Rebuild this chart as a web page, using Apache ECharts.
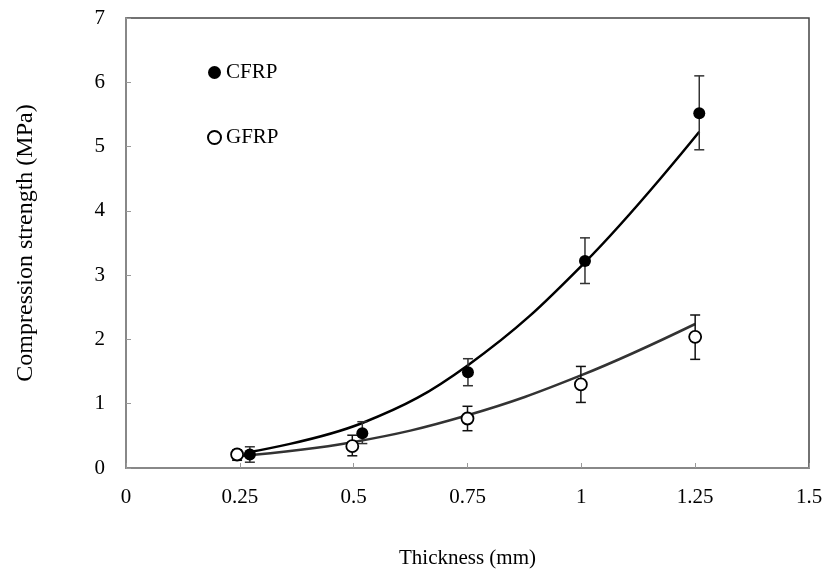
<!DOCTYPE html>
<html>
<head>
<meta charset="utf-8">
<script src="https://cdn.jsdelivr.net/npm/echarts@6/dist/echarts.min.js"></script>
<style>
  html, body { margin: 0; padding: 0; background: #fff; }
  #chart { width: 828px; height: 574px; }
</style>
</head>
<body>
<div id="chart"></div>
<script>
// measured points: [thickness, strength]
const cfrpPoints = [[0.272, 0.21], [0.519, 0.54], [0.751, 1.49], [1.008, 3.22], [1.259, 5.52]];
const gfrpPoints = [[0.244, 0.21], [0.497, 0.34], [0.750, 0.77], [0.999, 1.30], [1.250, 2.04]];

// error bars: [thickness, low, high]
const cfrpErr = [[0.272, 0.09, 0.33], [0.519, 0.38, 0.72], [0.751, 1.28, 1.70], [1.008, 2.87, 3.58], [1.259, 4.95, 6.10]];
const gfrpErr = [[0.244, 0.12, 0.28], [0.497, 0.19, 0.51], [0.750, 0.58, 0.96], [0.999, 1.02, 1.58], [1.250, 1.69, 2.38]];

// trend lines
const cfrpTrend = [[0.272, 0.25], [0.519, 0.70], [0.751, 1.60], [1.008, 3.20], [1.259, 5.23]];
const gfrpTrend = [[0.244, 0.18], [0.497, 0.40], [0.750, 0.82], [0.999, 1.44], [1.250, 2.24]];

const chart = echarts.init(document.getElementById("chart"));
const FONT = "'Liberation Serif', 'Times New Roman', serif";

function errorBars(color) {
  return function (params, api) {
    const x = api.value(0);
    const lo = api.coord([x, api.value(1)]);
    const hi = api.coord([x, api.value(2)]);
    const cap = 5;
    const style = { stroke: color, lineWidth: 1.5 };
    return {
      type: "group",
      children: [
        { type: "line", shape: { x1: lo[0], y1: lo[1], x2: hi[0], y2: hi[1] }, style },
        { type: "line", shape: { x1: lo[0] - cap, y1: lo[1], x2: lo[0] + cap, y2: lo[1] }, style },
        { type: "line", shape: { x1: hi[0] - cap, y1: hi[1], x2: hi[0] + cap, y2: hi[1] }, style },
      ],
    };
  };
}

chart.setOption({
  animation: false,
  backgroundColor: "#fff",
  textStyle: { fontFamily: FONT },
  grid: {
    left: 126, right: 19, top: 18, bottom: 104,
    show: true, borderColor: "#444", borderWidth: 1.5,
  },
  legend: {
    data: ["CFRP", "GFRP"],
    orient: "vertical",
    left: 202, top: 57,
    itemGap: 44,
    itemWidth: 13, itemHeight: 13,
    textStyle: { fontFamily: FONT, fontSize: 21, color: "#000" },
  },
  xAxis: {
    type: "value",
    min: 0, max: 1.5, interval: 0.25,
    name: "Thickness (mm)",
    nameLocation: "middle",
    nameGap: 80,
    nameTextStyle: { fontFamily: FONT, fontSize: 21, color: "#000" },
    axisLine: { lineStyle: { color: "#888", width: 2 } },
    axisTick: { inside: true, length: 5, lineStyle: { color: "#999" } },
    axisLabel: { fontFamily: FONT, fontSize: 21, color: "#000", margin: 19 },
    splitLine: { show: false },
  },
  yAxis: {
    type: "value",
    min: 0, max: 7, interval: 1,
    name: "Compression strength (MPa)",
    nameLocation: "middle",
    nameGap: 88,
    nameTextStyle: { fontFamily: FONT, fontSize: 24, color: "#000" },
    axisLine: { show: true, lineStyle: { color: "#888", width: 2 } },
    axisTick: { show: true, inside: true, length: 5, lineStyle: { color: "#999" } },
    axisLabel: { fontFamily: FONT, fontSize: 21, color: "#000", margin: 21 },
    splitLine: { show: false },
  },
  series: [
    {
      name: "CFRP fit", type: "line", data: cfrpTrend, smooth: 0.4,
      showSymbol: false, lineStyle: { color: "#000", width: 2.5 }, z: 2,
    },
    {
      name: "GFRP fit", type: "line", data: gfrpTrend, smooth: 0.4,
      showSymbol: false, lineStyle: { color: "#333", width: 2.5 }, z: 2,
    },
    {
      name: "CFRP err", type: "custom", data: cfrpErr,
      renderItem: errorBars("#333"), z: 3,
    },
    {
      name: "GFRP err", type: "custom", data: gfrpErr,
      renderItem: errorBars("#111"), z: 3,
    },
    {
      name: "CFRP", type: "scatter", data: cfrpPoints,
      symbol: "circle", symbolSize: 12,
      itemStyle: { color: "#000", opacity: 1 }, z: 4,
    },
    {
      name: "GFRP", type: "scatter", data: gfrpPoints,
      symbol: "circle", symbolSize: 12,
      itemStyle: { color: "#fff", borderColor: "#000", borderWidth: 1.8, opacity: 1 }, z: 4,
    },
  ],
});
</script>
</body>
</html>
